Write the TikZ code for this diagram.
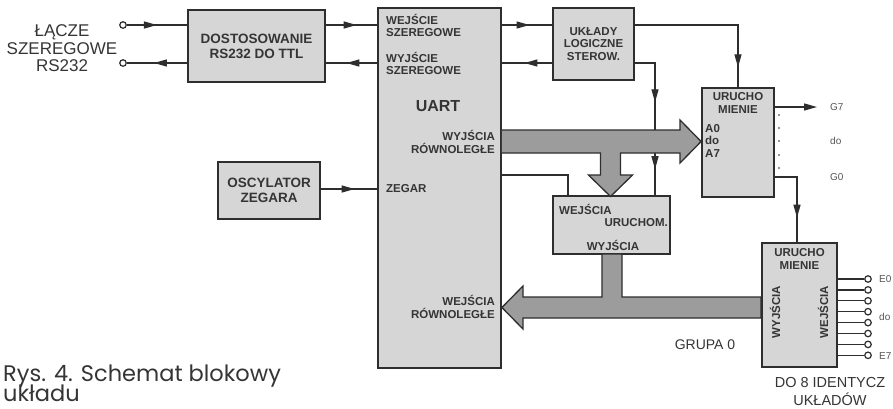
\documentclass[tikz,border=0pt]{standalone}
\usepackage{fontspec}
\setmainfont{Liberation Sans}
\newfontfamily\capfont{Poppins}
\usetikzlibrary{arrows.meta,calc,decorations.markings}
\definecolor{lc}{HTML}{2E2E2E}
\definecolor{tc}{HTML}{353535}
\definecolor{bf}{HTML}{D6D6D6}
\definecolor{af}{HTML}{9C9C9C}
\definecolor{lt}{HTML}{555555}
\tikzset{
  blk/.style={draw=lc, line width=1.8pt, fill=bf, inner sep=0pt, text=tc, align=center},
  ln/.style={draw=lc, line width=1.3pt},
  tipend/.style={-{Triangle[length=13pt,width=7pt]}},
  marr/.style={postaction={decorate}, decoration={markings, mark=at position #1 with {\arrow{Triangle[length=13pt,width=7pt]}}}},
  marrtwo/.style 2 args={postaction={decorate}, decoration={markings, mark=at position #1 with {\arrow{Triangle[length=13pt,width=7pt]}}, mark=at position #2 with {\arrow{Triangle[length=13pt,width=7pt]}}}},
  bus/.style={draw=lc, line width=1.3pt, fill=af, line join=miter},
  bl/.style={font=\bfseries\fontsize{11.5}{12.5}\selectfont, text=tc, inner sep=0pt, align=left},
  br/.style={font=\bfseries\fontsize{11.5}{12.5}\selectfont, text=tc, inner sep=0pt, align=right},
  sm/.style={font=\fontsize{10}{11}\selectfont, text=lt, inner sep=0pt},
  pincirc/.style={circle, draw=lc, line width=1.2pt, fill=white, minimum size=6.5pt, inner sep=0pt},
  dotc/.style={circle, fill=lc, minimum size=1.8pt, inner sep=0pt},
}
\begin{document}
\begin{tikzpicture}[x=1pt,y=-1pt]
\useasboundingbox[fill=white] (0,0) rectangle (893,408);

% boxes
\node[blk, minimum width=137pt, minimum height=72pt, font=\bfseries\fontsize{13.5}{15}\selectfont] (dost) at (256.5,46) {DOSTOSOWANIE\\RS232 DO TTL};
\node[blk, minimum width=123pt, minimum height=360pt] (uart) at (439.5,188) {};
\node[blk, minimum width=81pt, minimum height=72pt] (ukl) at (593.5,44) {};
\node[blk, minimum width=72pt, minimum height=109pt] (ur1) at (738,142.5) {};
\node[blk, minimum width=117pt, minimum height=58pt] (wej) at (611.5,225) {};
\node[blk, minimum width=75pt, minimum height=124pt] (ur2) at (799.5,305) {};
\node[blk, minimum width=102pt, minimum height=57pt, font=\bfseries\fontsize{13.5}{14.5}\selectfont] (osc) at (269,190.5) {OSCYLATOR\\ZEGARA};

% box texts
\node[font=\bfseries\fontsize{11.5}{12.5}\selectfont, text=tc, align=center, inner sep=0pt] (ukltxt) at (593.5,44) {UKŁADY\\LOGICZNE\\STEROW.};
\node[bl, anchor=north west] (ws) at (386,14) {WEJŚCIE\\SZEREGOWE};
\node[bl, anchor=north west] (ys) at (386,52) {WYJŚCIE\\SZEREGOWE};
\node[font=\bfseries\fontsize{16}{17}\selectfont, text=tc, inner sep=0pt] (uarttxt) at (438,106) {UART};
\node[br, anchor=east] (yr) at (495,142) {WYJŚCIA\\RÓWNOLEGŁE};
\node[bl, anchor=west] (zg) at (386,189) {ZEGAR};
\node[br, anchor=east] (wr) at (495,307) {WEJŚCIA\\RÓWNOLEGŁE};
\node[font=\bfseries\fontsize{11.5}{12.5}\selectfont, text=tc, align=center, inner sep=0pt] (ur1txt) at (738,103) {URUCHO\\MIENIE};
\node[bl, anchor=north west] (a0) at (705,124) {A0\\do\\A7};
\node[bl, anchor=west] (wejt) at (559,209) {WEJŚCIA};
\node[bl, anchor=east] (urt) at (668,223) {URUCHOM.};
\node[bl] (wyt) at (613,245) {WYJŚCIA};
\node[font=\bfseries\fontsize{11.5}{12.5}\selectfont, text=tc, align=center, inner sep=0pt] (ur2txt) at (799.5,259) {URUCHO\\MIENIE};
\node[bl, rotate=90] (ur2a) at (775,312) {WYJŚCIA};
\node[bl, rotate=90] (ur2b) at (823,312) {WEJŚCIA};

% outside texts
\node[font=\fontsize{17}{17.5}\selectfont, text=tc, align=center, inner sep=0pt] (lacze) at (62,48.5) {ŁĄCZE\\SZEREGOWE\\RS232};
\node[font=\fontsize{14}{15}\selectfont, text=tc, inner sep=0pt] (grupa) at (705,345) {GRUPA 0};
\node[font=\fontsize{14.5}{18}\selectfont, text=tc, align=center, inner sep=0pt] (do8) at (830,391) {DO 8 IDENTYCZ\\UKŁADÓW};
\node[font=\capfont\fontsize{22.5}{24}\selectfont, text=tc, anchor=base west, inner sep=0pt] (cap1) at (3,381) {Rys. 4. Schemat blokowy};
\node[font=\capfont\fontsize{22.5}{24}\selectfont, text=tc, anchor=base west, inner sep=0pt] (cap2) at (3,401.5) {układu};

% terminals
\node[pincirc] (c1) at (123,25) {};
\node[pincirc] (c2) at (123,63) {};
\coordinate (y25) at (0,25);
\coordinate (y63) at (0,63);

% serial lines
\draw[ln, marr=0.5] (c1) -- (c1 -| dost.west);
\draw[ln, marr=0.6] (dost.east |- y25) -- (uart.west |- y25);
\draw[ln, marr=0.6] (uart.west |- y63) -- (dost.east |- y63);
\draw[ln, marr=0.55] (dost.west |- y63) -- (c2);
\draw[ln, marr=0.55] (uart.east |- y25) -- (ukl.west |- y25);
\draw[ln, marr=0.55] (ukl.west |- y63) -- (uart.east |- y63);
\draw[ln, marr=0.88] (ukl.east |- y25) -| (ur1.north);
\coordinate (k1) at (655,63);
\draw[ln, marrtwo={0.39}{0.83}] (ukl.east |- y63) -- (k1) -- (k1 |- wej.north);
\draw[ln, marr=0.6] (osc.east |- 0,189) -- (uart.west |- 0,189);
\coordinate (k2) at (568,175);
\draw[ln] (uart.east |- k2) -- (k2) -- (k2 |- wej.north);

% bus arrows
\draw[bus] (uart.east |- 0,130) -- (680,130) -- (680,120) -- (ur1.west |- 0,141.5) -- (680,163) -- (680,153)
  -- (620.5,153) -- (620.5,175) -- (632.5,175) -- (610.5,196.5) -- (588.5,175) -- (600.5,175) -- (600.5,153)
  -- (uart.east |- 0,153) ;
\draw[bus] (602,254) -- (622,254) -- (622,297) -- (ur2.west |- 0,297) -- (ur2.west |- 0,318) -- (523,318)
  -- (523,329) -- (uart.east |- 0,307.5) -- (523,286) -- (523,297) -- (602,297) -- cycle;

% ur1 outputs
\draw[ln, tipend] (ur1.east |- 0,107) -- (817,107);
\node[sm, anchor=west] (g7) at (830,107) {G7};
\node[sm, anchor=west] (gdo) at (830,141) {do};
\node[sm, anchor=west] (g0) at (830,177) {G0};
\foreach \yy in {115,128,141,155,168} { \node[dotc] at (779,\yy) {}; }
\coordinate (k3) at (797,177);
\draw[ln, marr=0.72] (ur1.east |- k3) -- (k3) -- (k3 |- ur2.north);

% ur2 pins
\foreach \i in {0,...,7} {
  \node[pincirc] (e\i) at (868,{279+\i*10.9}) {};
  \draw[ln] (ur2.east |- e\i) -- (e\i);
}
\node[sm, anchor=west] (e0t) at (879,279) {E0};
\node[sm, anchor=west] (edo) at (879,317) {do};
\node[sm, anchor=west] (e7t) at (879,356) {E7};
\end{tikzpicture}
\end{document}
